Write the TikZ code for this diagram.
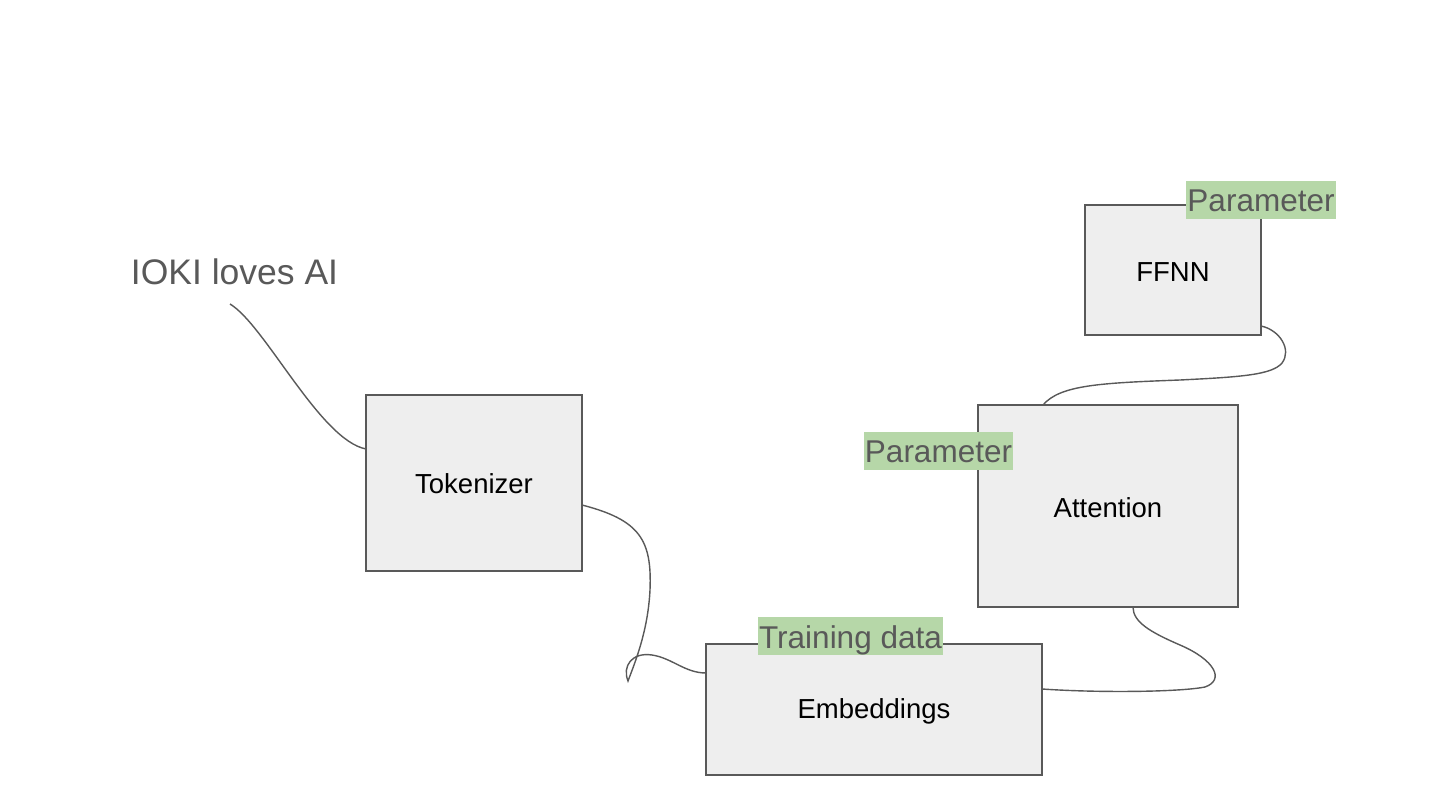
\documentclass[tikz,border=0pt]{standalone}
\usepackage{fontspec}
\setmainfont{Liberation Sans}
\definecolor{lgray}{HTML}{595959}
\definecolor{boxfill}{HTML}{EEEEEE}
\definecolor{hl}{HTML}{B6D7A8}
\begin{document}
\begin{tikzpicture}[x=1pt,y=-1pt,
  box/.style={draw=lgray, fill=boxfill, line width=1.3pt, rectangle, outer sep=0pt, inner sep=0pt,
    font=\fontsize{27.5}{31}\selectfont, text=black},
  boxtext/.style={inner sep=0pt, font=\fontsize{27.5}{31}\selectfont, text=black},
  tag/.style={fill=hl, text=lgray, inner xsep=1pt, inner ysep=0pt, outer sep=0pt, minimum height=38pt,
    text height=28pt, text depth=4pt, font=\fontsize{31.5}{36}\selectfont},
  conn/.style={draw=lgray, line width=1.4pt}]
\useasboundingbox (0,0) rectangle (1440,810);
\fill[white] (0,0) rectangle (1440,810);
% boxes
\node[box, minimum width=216pt, minimum height=176pt] (tok) at (474,483) {};
\node[box, minimum width=336pt, minimum height=131pt] (emb) at (874,709.5) {};
\node[box, minimum width=260pt, minimum height=202pt] (att) at (1108,506) {};
\node[box, minimum width=176pt, minimum height=130pt] (ffnn) at (1173,270) {};
\node[boxtext] (tokt) at (474,484) {Tokenizer};
\node[boxtext] (embt) at (874,711) {Embeddings};
\node[boxtext] (attt) at (1108,508) {Attention};
\node[boxtext] (ffnnt) at (1173,272) {FFNN};
% title
\node[text=lgray, font=\fontsize{35.5}{40}\selectfont, inner sep=0pt] (title) at (234.5,272) {IOKI loves AI};
\coordinate (s1) at (230,304);
% connectors
\draw[conn] (s1) .. controls (265,325) and (320,440) .. ([yshift=34pt]tok.west);
\draw[conn] ([yshift=-22pt]tok.east) .. controls (640,520) and (652,540) .. (650,590)
  .. controls (648,630) and (636,660) .. (628,681)
  .. controls (622,666) and (632,652) .. (652,655)
  .. controls (672,658) and (685,673) .. ([yshift=36.5pt]emb.west);
\draw[conn] ([yshift=20.5pt]emb.east) .. controls (1100,693) and (1180,692) .. (1205,687)
  .. controls (1225,680) and (1215,660) .. (1180,645)
  .. controls (1150,632) and (1133,622) .. ([xshift=25pt]att.south);
\draw[conn] ([yshift=9pt]ffnn.south east) .. controls (1280,330) and (1292,350) .. (1282,363)
  .. controls (1272,375) and (1240,377) .. (1180,380)
  .. controls (1100,383) and (1060,385) .. ([xshift=-65pt]att.north);
% highlighted labels
\node[tag, minimum width=150pt] (p1) at (1261,200) {Parameter};
\node[tag, minimum width=149pt] (p2) at (938.5,450.5) {Parameter};
\node[tag, minimum width=185pt] (td) at (850.5,636) {Training data};
\end{tikzpicture}
\end{document}
